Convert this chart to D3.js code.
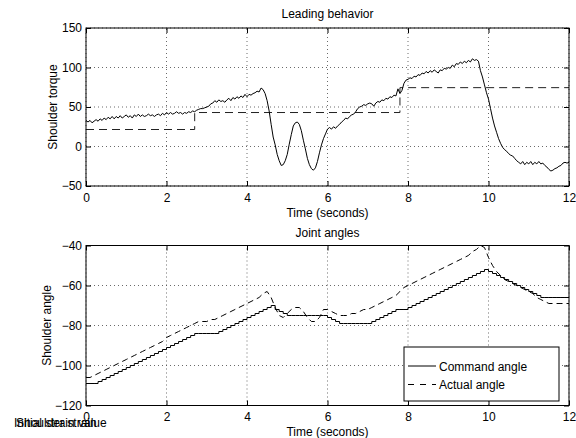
<!DOCTYPE html>
<html><head><meta charset="utf-8">
<script src="https://cdn.jsdelivr.net/npm/d3@7"></script>
<style>
body{margin:0;background:#fff;}
svg{display:block;font-family:"Liberation Sans",Arial,Helvetica,sans-serif;}
.tick text{font-size:12px;fill:#000;}
</style></head><body>
<svg id="c" width="576" height="438"></svg>
<script>
// ---------- data ----------
const torqueDt = 0.05;
const torque = [
33,31,33,30,32,34,32,35,33,36,34,37,35,38,35,38,36,39,36,38,
40,37,39,36,40,38,41,38,40,38,39,41,39,40,38,40,41,39,42,40,
43,41,43,41,42,44,42,43,41,43,42,44,43,45,44,46,47,48,48,49,
50,51,54,55,58,56,59,57,58,56,59,61,58,62,60,63,61,64,62,66,
63,66,65,67,68,70,69,74,72,67,58,45,28,12,2,-10,-18,-24,-23,-18,
-10,3,15,26,30,31,28,20,8,-3,-15,-23,-28,-30,-27,-19,-8,2,10,16,
22,24,22,25,23,26,28,31,33,36,35,38,40,41,44,48,50,51,53,52,
54,55,54,51,55,57,56,59,58,61,60,63,62,65,64,73,67,71,80,84,
85,87,86,89,88,91,90,93,92,95,93,96,94,97,95,93,97,96,99,98,
100,99,103,101,105,104,107,105,108,106,109,107,111,109,110,108,96,88,78,68,
60,48,36,26,18,10,4,-1,-4,-6,-9,-11,-12,-15,-18,-20,-22,-19,-23,-20,
-22,-19,-23,-20,-22,-19,-22,-21,-24,-26,-29,-31,-30,-28,-27,-25,-24,-21,-20,-21,
-20
];
const refTimes  = [0, 2.7, 2.7, 7.8, 7.8, 12];
const refTorque = [21.5, 21.5, 43, 43, 74.5, 74.5];

const angleDt = 0.1;
const commandAngle = [
-109,-109,-109,-108,-107,-106,-105,-104,-103,-102,
-101,-100,-99,-98,-97,-96,-95,-94,-93,-92,
-91,-90,-89,-88,-87,-86,-85,-84,-84,-84,
-84,-84,-84,-83,-82,-81,-80,-79,-78,-77,
-76,-75,-74,-73,-72,-71,-70,-72,-73,-74,
-75,-75,-75,-75,-75,-75,-75,-75,-75,-75,
-76,-77,-78,-79,-79,-79,-79,-79,-79,-79,
-79,-78,-77,-76,-75,-74,-73,-72,-72,-72,
-71,-70,-69,-68,-67,-66,-65,-64,-63,-62,
-61,-60,-59,-58,-57,-56,-55,-54,-53,-52,
-53,-54,-55,-56,-57,-58,-59,-60,-61,-62,
-63,-64,-65,-66,-66,-66,-66,-66,-66,-66,
-66
];
const actualAngle = [
-106,-106,-105,-104,-103,-102,-101,-100,-99,-98,
-97,-96,-95,-94,-93,-92,-91,-90,-89,-88,
-86,-85,-84,-83,-82,-81,-80,-79,-78,-78,
-78,-77,-77,-76,-75,-74,-73,-72,-71,-70,
-69,-68,-67,-66,-64,-63,-66,-71,-75,-76,
-74,-72,-71,-71,-73,-76,-78,-78,-76,-72,
-72,-73,-74,-75,-75,-75,-74,-74,-73,-72,
-72,-71,-70,-69,-68,-67,-66,-65,-63,-61,
-60,-59,-58,-57,-56,-55,-54,-53,-52,-51,
-50,-49,-48,-47,-46,-45,-43,-42,-40,-41,
-46,-50,-53,-55,-57,-58,-59,-60,-61,-62,
-63,-64,-66,-67,-68,-69,-69,-69,-69,-69,
-69
];

const xTicks = [0,2,4,6,8,10,12];
const topYTicks = [-50,0,50,100,150];
const botYTicks = [-120,-100,-80,-60,-40];
const legendLabels = ["Command angle","Actual angle"];

// ---------- drawing ----------
const svg = d3.select("#c");

function panel(cfg){
  const g = svg.append("g");
  const x = cfg.x, y = cfg.y;
  const [x0,x1] = x.range(), [y0,y1] = y.range();
  g.append("g").selectAll("line").data(xTicks).join("line")
    .attr("x1",d=>x(d)).attr("x2",d=>x(d)).attr("y1",y0).attr("y2",y1)
    .attr("stroke","#444").attr("stroke-width",0.8).attr("stroke-dasharray","1,3");
  g.append("g").selectAll("line").data(cfg.yTicks).join("line")
    .attr("x1",x0).attr("x2",x1).attr("y1",d=>y(d)).attr("y2",d=>y(d))
    .attr("stroke","#444").attr("stroke-width",0.8).attr("stroke-dasharray","1,3");
  const ax = g.append("g").attr("transform",`translate(0,${y0})`)
    .call(d3.axisBottom(x).tickValues(xTicks).tickSize(-5).tickPadding(7));
  const ay = g.append("g").attr("transform",`translate(${x0},0)`)
    .call(d3.axisLeft(y).tickValues(cfg.yTicks).tickSize(-5).tickPadding(4));
  const at = g.append("g").attr("transform",`translate(0,${y1})`)
    .call(d3.axisTop(x).tickValues(xTicks).tickSize(-5).tickFormat(""));
  const ar = g.append("g").attr("transform",`translate(${x1},0)`)
    .call(d3.axisRight(y).tickValues(cfg.yTicks).tickSize(-5).tickFormat(""));
  [ax,ay,at,ar].forEach(a=>{a.select(".domain").remove(); a.selectAll("line").attr("stroke","#000");});
  g.append("text").attr("x",(x0+x1)/2).attr("y",cfg.titleY).attr("text-anchor","middle")
    .attr("font-size",12).text(cfg.title);
  g.append("text").attr("x",(x0+x1)/2).attr("y",y0+30.5).attr("text-anchor","middle")
    .attr("font-size",12).text("Time (seconds)");
  g.append("text").attr("transform",`translate(${cfg.ylx},${(y0+y1)/2}) rotate(-90)`)
    .attr("text-anchor","middle").attr("font-size",12).text(cfg.ylabel);
  return g;
}

// top panel
const xT = d3.scaleLinear([0,12],[86,569]);
const yT = d3.scaleLinear([-50,150],[186,28]);
const gT = panel({x:xT,y:yT,yTicks:topYTicks,title:"Leading behavior",titleY:17.5,ylabel:"Shoulder torque",ylx:57});
gT.append("path").datum(refTimes.map((t,i)=>[t,refTorque[i]]))
  .attr("fill","none").attr("stroke","#222").attr("stroke-width",1)
  .attr("stroke-dasharray","8,5")
  .attr("d",d3.line().x(d=>xT(d[0])).y(d=>yT(d[1])));
gT.append("path").datum(torque.map((v,i)=>[i*torqueDt,v]))
  .attr("fill","none").attr("stroke","#000").attr("stroke-width",1)
  .attr("d",d3.line().x(d=>xT(d[0])).y(d=>yT(d[1])));
gT.append("rect").attr("x",86).attr("y",28).attr("width",483).attr("height",158)
  .attr("fill","none").attr("stroke","#000").attr("stroke-width",1);

// bottom panel
const xB = d3.scaleLinear([0,12],[86,569]);
const yB = d3.scaleLinear([-120,-40],[405.5,245.5]);
const gB = panel({x:xB,y:yB,yTicks:botYTicks,title:"Joint angles",titleY:236.5,ylabel:"Shoulder angle",ylx:51});
gB.append("path").datum(commandAngle.map((v,i)=>[i*angleDt,v]))
  .attr("fill","none").attr("stroke","#000").attr("stroke-width",1)
  .attr("d",d3.line().curve(d3.curveStepAfter).x(d=>xB(d[0])).y(d=>yB(d[1])));
gB.append("path").datum(actualAngle.map((v,i)=>[i*angleDt,v]))
  .attr("fill","none").attr("stroke","#000").attr("stroke-width",1)
  .attr("stroke-dasharray","6,4")
  .attr("d",d3.line().x(d=>xB(d[0])).y(d=>yB(d[1])));
gB.append("rect").attr("x",86).attr("y",245.5).attr("width",483).attr("height",160)
  .attr("fill","none").attr("stroke","#000").attr("stroke-width",1);

// legend
const lg = svg.append("g");
lg.append("rect").attr("x",404).attr("y",347).attr("width",155).attr("height",54)
  .attr("fill","#fff").attr("stroke","#000").attr("stroke-width",1);
legendLabels.forEach((lab,i)=>{
  const yy = 366 + i*18.5;
  lg.append("line").attr("x1",408).attr("x2",436).attr("y1",yy).attr("y2",yy)
    .attr("stroke","#000").attr("stroke-width",1)
    .attr("stroke-dasharray", i===1 ? "6,6" : null);
  lg.append("text").attr("x",439).attr("y",yy+4.5).attr("font-size",12).text(lab);
});

// overlapping stray annotations at bottom-left (as in the reference)
svg.append("text").attr("x",16).attr("y",427).attr("font-size",12).text("Shoulder strain");
svg.append("text").attr("x",14).attr("y",427).attr("font-size",12).text("Initial strain value");
</script>
</body></html>
